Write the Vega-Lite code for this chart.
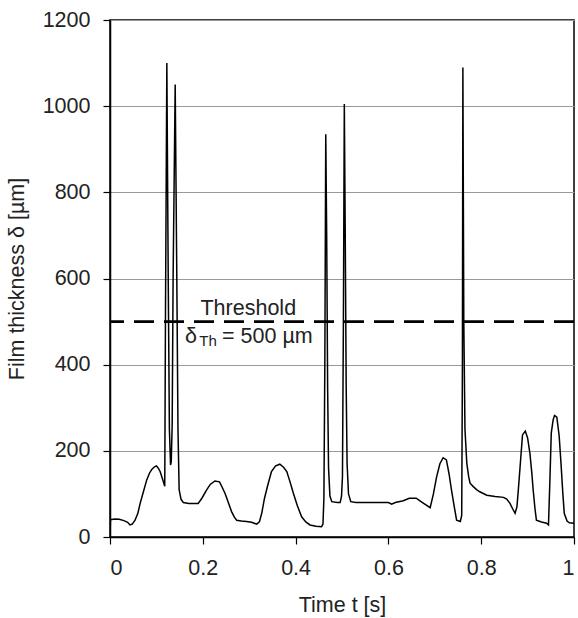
{
  "$schema": "https://vega.github.io/schema/vega-lite/v6.json",
  "width": 464,
  "height": 517,
  "autosize": {"type": "none"},
  "padding": {"left": 110, "top": 20, "right": 4, "bottom": 81},
  "background": "white",
  "config": {
    "font": "Liberation Sans",
    "view": {"stroke": "black", "strokeWidth": 1.5},
    "axis": {
      "labelFont": "Liberation Sans",
      "titleFont": "Liberation Sans",
      "labelFontSize": 21.5,
      "titleFontSize": 21.5,
      "labelColor": "#222",
      "titleColor": "#222",
      "titleFontWeight": "normal",
      "domainColor": "black",
      "domainWidth": 1.5,
      "tickColor": "black",
      "tickWidth": 1.2,
      "tickSize": 7
    }
  },
  "datasets": {
    "film": [
      {"t": 0.000, "v": 0},
      {"t": 0.001, "v": 40},
      {"t": 0.010, "v": 42},
      {"t": 0.020, "v": 41},
      {"t": 0.030, "v": 38},
      {"t": 0.038, "v": 34},
      {"t": 0.043, "v": 28},
      {"t": 0.048, "v": 30},
      {"t": 0.054, "v": 39},
      {"t": 0.060, "v": 55},
      {"t": 0.065, "v": 78},
      {"t": 0.072, "v": 105},
      {"t": 0.079, "v": 132},
      {"t": 0.085, "v": 148},
      {"t": 0.090, "v": 157},
      {"t": 0.096, "v": 163},
      {"t": 0.100, "v": 165},
      {"t": 0.104, "v": 160},
      {"t": 0.108, "v": 152},
      {"t": 0.113, "v": 135},
      {"t": 0.118, "v": 118},
      {"t": 0.1195, "v": 500},
      {"t": 0.1225, "v": 1100},
      {"t": 0.1255, "v": 600},
      {"t": 0.128, "v": 250},
      {"t": 0.1305, "v": 167},
      {"t": 0.132, "v": 175},
      {"t": 0.134, "v": 260},
      {"t": 0.136, "v": 600},
      {"t": 0.1405, "v": 1050},
      {"t": 0.144, "v": 600},
      {"t": 0.1465, "v": 250},
      {"t": 0.149, "v": 110},
      {"t": 0.153, "v": 88},
      {"t": 0.158, "v": 80},
      {"t": 0.170, "v": 78},
      {"t": 0.190, "v": 78},
      {"t": 0.198, "v": 90},
      {"t": 0.208, "v": 109},
      {"t": 0.216, "v": 122},
      {"t": 0.226, "v": 130},
      {"t": 0.236, "v": 128},
      {"t": 0.242, "v": 115},
      {"t": 0.248, "v": 101},
      {"t": 0.255, "v": 80},
      {"t": 0.262, "v": 59},
      {"t": 0.268, "v": 46},
      {"t": 0.273, "v": 39},
      {"t": 0.283, "v": 37},
      {"t": 0.294, "v": 36},
      {"t": 0.305, "v": 34},
      {"t": 0.316, "v": 30},
      {"t": 0.322, "v": 35},
      {"t": 0.327, "v": 55},
      {"t": 0.333, "v": 90},
      {"t": 0.340, "v": 120},
      {"t": 0.348, "v": 152},
      {"t": 0.357, "v": 165},
      {"t": 0.366, "v": 169},
      {"t": 0.374, "v": 162},
      {"t": 0.381, "v": 152},
      {"t": 0.388, "v": 128},
      {"t": 0.395, "v": 102},
      {"t": 0.404, "v": 72},
      {"t": 0.413, "v": 47},
      {"t": 0.422, "v": 35},
      {"t": 0.431, "v": 28},
      {"t": 0.444, "v": 25},
      {"t": 0.456, "v": 24},
      {"t": 0.459, "v": 30},
      {"t": 0.461, "v": 90},
      {"t": 0.463, "v": 400},
      {"t": 0.465, "v": 935},
      {"t": 0.467, "v": 700},
      {"t": 0.469, "v": 350},
      {"t": 0.471, "v": 160},
      {"t": 0.474, "v": 95},
      {"t": 0.478, "v": 82},
      {"t": 0.490, "v": 80},
      {"t": 0.496, "v": 80},
      {"t": 0.499, "v": 95},
      {"t": 0.501, "v": 140},
      {"t": 0.503, "v": 500},
      {"t": 0.505, "v": 1005},
      {"t": 0.507, "v": 700},
      {"t": 0.509, "v": 350},
      {"t": 0.511, "v": 170},
      {"t": 0.514, "v": 100},
      {"t": 0.519, "v": 82},
      {"t": 0.530, "v": 80},
      {"t": 0.560, "v": 80},
      {"t": 0.600, "v": 80},
      {"t": 0.607, "v": 76},
      {"t": 0.615, "v": 80},
      {"t": 0.632, "v": 84},
      {"t": 0.645, "v": 90},
      {"t": 0.660, "v": 90},
      {"t": 0.668, "v": 84},
      {"t": 0.676, "v": 78},
      {"t": 0.690, "v": 68},
      {"t": 0.697, "v": 100},
      {"t": 0.704, "v": 140},
      {"t": 0.711, "v": 170},
      {"t": 0.718, "v": 184},
      {"t": 0.725, "v": 179},
      {"t": 0.731, "v": 145},
      {"t": 0.736, "v": 109},
      {"t": 0.742, "v": 70},
      {"t": 0.747, "v": 39},
      {"t": 0.755, "v": 36},
      {"t": 0.758, "v": 50},
      {"t": 0.7595, "v": 400},
      {"t": 0.7605, "v": 1090},
      {"t": 0.7625, "v": 500},
      {"t": 0.765, "v": 250},
      {"t": 0.769, "v": 171},
      {"t": 0.773, "v": 140},
      {"t": 0.776, "v": 125},
      {"t": 0.783, "v": 117},
      {"t": 0.790, "v": 110},
      {"t": 0.797, "v": 105},
      {"t": 0.812, "v": 97},
      {"t": 0.830, "v": 94},
      {"t": 0.848, "v": 92},
      {"t": 0.855, "v": 88},
      {"t": 0.862, "v": 78},
      {"t": 0.868, "v": 65},
      {"t": 0.873, "v": 55},
      {"t": 0.877, "v": 70},
      {"t": 0.880, "v": 109},
      {"t": 0.885, "v": 180},
      {"t": 0.889, "v": 237},
      {"t": 0.895, "v": 246},
      {"t": 0.900, "v": 230},
      {"t": 0.905, "v": 194},
      {"t": 0.909, "v": 150},
      {"t": 0.912, "v": 109},
      {"t": 0.916, "v": 65},
      {"t": 0.919, "v": 39},
      {"t": 0.930, "v": 35},
      {"t": 0.941, "v": 32},
      {"t": 0.945, "v": 28},
      {"t": 0.948, "v": 130},
      {"t": 0.951, "v": 241},
      {"t": 0.955, "v": 272},
      {"t": 0.958, "v": 282},
      {"t": 0.963, "v": 278},
      {"t": 0.968, "v": 235},
      {"t": 0.972, "v": 171},
      {"t": 0.976, "v": 100},
      {"t": 0.979, "v": 55},
      {"t": 0.985, "v": 37},
      {"t": 0.990, "v": 33},
      {"t": 1.000, "v": 32}
    ],
    "threshold": [{"v": 500}],
    "labels": [
      {"t": 0.195, "v": 515, "label": "Threshold", "part": "title"},
      {"t": 0.1615, "v": 450, "label": "δ", "part": "delta"},
      {"t": 0.1925, "v": 444, "label": "Th", "part": "sub"},
      {"t": 0.2415, "v": 450, "label": "= 500 µm", "part": "value"}
    ]
  },
  "layer": [
    {
      "data": {"name": "threshold"},
      "mark": {"type": "rule", "color": "black", "strokeWidth": 2.8, "strokeDash": [20, 10]},
      "encoding": {
        "y": {"field": "v", "type": "quantitative", "scale": {"domain": [0, 1200]}}
      }
    },
    {
      "data": {"name": "film"},
      "mark": {"type": "line", "color": "black", "strokeWidth": 1.5, "clip": true},
      "encoding": {
        "x": {
          "field": "t", "type": "quantitative",
          "scale": {"domain": [0, 1], "nice": false, "zero": false},
          "axis": {
            "title": "Time t [s]",
            "values": [0, 0.2, 0.4, 0.6, 0.8, 1],
            "format": "~g",
            "grid": false,
            "labelPadding": 13,
            "titlePadding": 16
          }
        },
        "y": {
          "field": "v", "type": "quantitative",
          "scale": {"domain": [0, 1200], "nice": false},
          "axis": {
            "title": "Film thickness  δ [µm]",
            "values": [0, 200, 400, 600, 800, 1000, 1200],
            "format": "d",
            "grid": true,
            "gridColor": "#999",
            "gridWidth": 1,
            "labelPadding": 13,
            "titlePadding": 14
          }
        }
      }
    },
    {
      "data": {"name": "labels"},
      "transform": [{"filter": "datum.part != 'sub'"}],
      "mark": {"type": "text", "align": "left", "baseline": "alphabetic", "fontSize": 21.5, "color": "#222", "font": "Liberation Sans"},
      "encoding": {
        "x": {"field": "t", "type": "quantitative"},
        "y": {"field": "v", "type": "quantitative"},
        "text": {"field": "label"}
      }
    },
    {
      "data": {"name": "labels"},
      "transform": [{"filter": "datum.part == 'sub'"}],
      "mark": {"type": "text", "align": "left", "baseline": "alphabetic", "fontSize": 15, "color": "#222", "font": "Liberation Sans"},
      "encoding": {
        "x": {"field": "t", "type": "quantitative"},
        "y": {"field": "v", "type": "quantitative"},
        "text": {"field": "label"}
      }
    }
  ]
}
